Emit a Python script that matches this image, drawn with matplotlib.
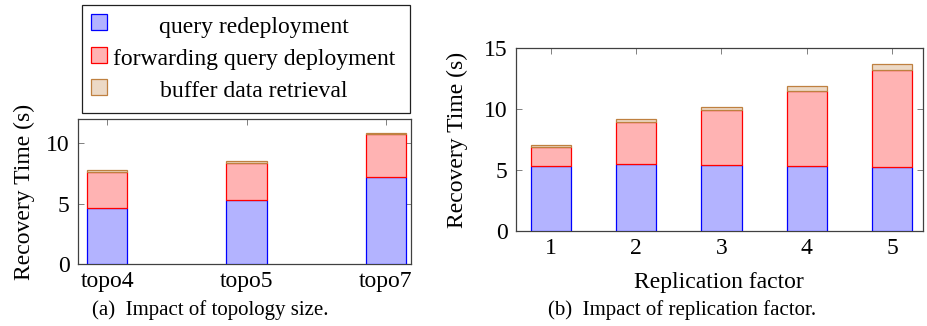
import matplotlib
matplotlib.use("Agg")

import numpy as np
import matplotlib.pyplot as plt
import matplotlib.patches as patches

plt.rcParams["font.family"] = ["Liberation Serif", "DejaVu Serif"]

# =======================
# Data
# =======================

series_names = ["query redeployment", "forwarding query deployment", "buffer data retrieval"]

topo_labels = ["topo4", "topo5", "topo7"]
topo_redeploy = [4.6, 5.31, 7.16]
topo_forward = [3.03, 3.04, 3.58]
topo_buffer = [0.17, 0.19, 0.14]

repl_labels = ["1", "2", "3", "4", "5"]
repl_redeploy = [5.36, 5.47, 5.39, 5.36, 5.28]
repl_forward = [1.54, 3.48, 4.54, 6.11, 7.94]
repl_buffer = [0.13, 0.22, 0.27, 0.41, 0.49]

fills = ["#b3b3ff", "#ffb3b3", "#ecd9c6"]
edges = ["#0000ff", "#ff0000", "#bf8040"]

W, H = 927, 326
FS = 17
CAP = 15


def px_axes(fig, x0, y0, x1, y1):
    # pixel box (top-left origin) -> figure axes
    return fig.add_axes([x0 / W, (H - y1) / H, (x1 - x0) / W, (y1 - y0) / H])


def style_axes(ax):
    for s in ax.spines.values():
        s.set_color("#404040")
        s.set_linewidth(0.9)
    ax.tick_params(direction="in", length=4, width=0.7, color="#808080",
                   top=True, right=True, labelsize=FS)
    ax.tick_params(axis="y", pad=6)
    ax.tick_params(axis="x", pad=5)


def stacked(ax, x, parts, width):
    bottom = np.zeros(len(x))
    for vals, fc, ec in zip(parts, fills, edges):
        ax.bar(x, vals, width, bottom=bottom, color=fc, edgecolor=ec, lw=0.9, zorder=3)
        bottom += np.array(vals)


fig = plt.figure(figsize=(W / 100, H / 100), dpi=100)

# ---- (a) topology size
ax1 = px_axes(fig, 78, 119, 411, 264)
x1 = np.arange(len(topo_labels))
stacked(ax1, x1, [topo_redeploy, topo_forward, topo_buffer], 0.29)
ax1.set_xlim(-0.21, 2.18)
ax1.set_ylim(0, 12)
ax1.set_yticks([0, 5, 10])
ax1.set_xticks(x1)
ax1.set_xticklabels(topo_labels)
ax1.set_ylabel("Recovery Time (s)", fontsize=FS)
ax1.yaxis.set_label_coords(-0.13, 0.5)
style_axes(ax1)
fig.text(210 / W, 1 - 310 / H, "(a)  Impact of topology size.", ha="center", va="center", fontsize=CAP)

# ---- (b) replication factor
ax2 = px_axes(fig, 516, 48.3, 922.7, 231)
x2 = np.arange(1, len(repl_labels) + 1)
stacked(ax2, x2, [repl_redeploy, repl_forward, repl_buffer], 0.47)
ax2.set_xlim(0.594, 5.356)
ax2.set_ylim(0, 15)
ax2.set_yticks([0, 5, 10, 15])
ax2.set_xticks(x2)
ax2.set_xticklabels(repl_labels)
ax2.set_ylabel("Recovery Time (s)", fontsize=FS)
ax2.yaxis.set_label_coords(-0.118, 0.5)
ax2.set_xlabel("Replication factor", fontsize=FS)
ax2.xaxis.set_label_coords(0.5, -0.225)
style_axes(ax2)
fig.text(682 / W, 1 - 310 / H, "(b)  Impact of replication factor.", ha="center", va="center", fontsize=CAP)

# ---- legend, drawn by hand so the labels are centred like pgfplots
tr = fig.transFigure
fig.add_artist(patches.Rectangle((82 / W, 1 - 113 / H), (410 - 82) / W, (113 - 5) / H,
                                 transform=tr, fill=False, edgecolor="#202020", lw=0.9))
rows = [27, 60, 92]
for name, fc, ec, ry in zip(series_names, fills, edges, rows):
    sq = 16
    fig.add_artist(patches.Rectangle((91 / W, 1 - (ry - 5 + sq / 2) / H), sq / W, sq / H,
                                     transform=tr, facecolor=fc, edgecolor=ec, lw=0.9))
    fig.text(254 / W, 1 - ry / H, name, ha="center", va="center", fontsize=FS)

fig.savefig("out.png", dpi=100)
plt.close(fig)
